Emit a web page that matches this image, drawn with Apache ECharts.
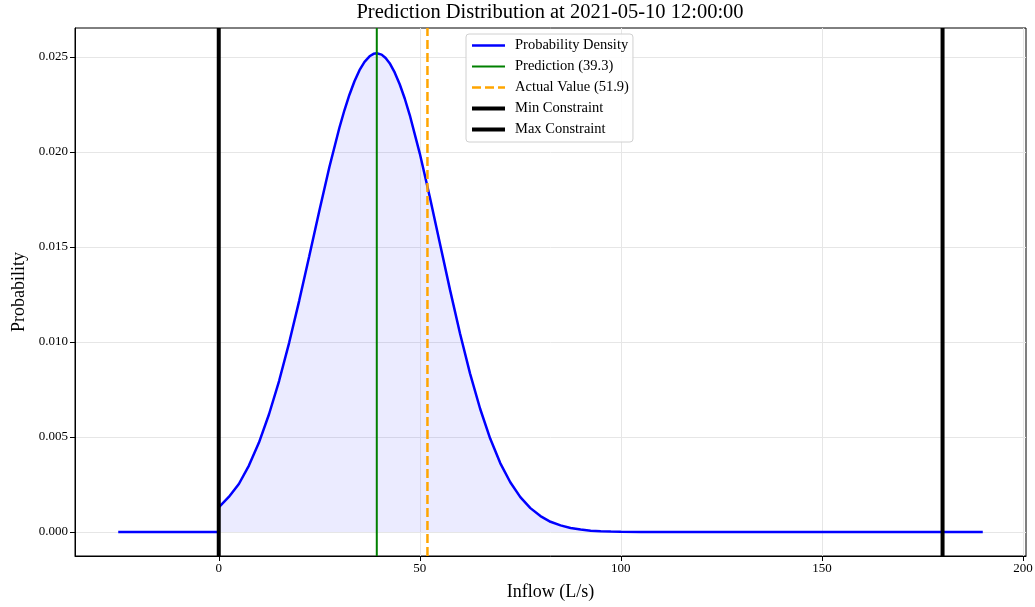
<!DOCTYPE html>
<html>
<head>
<meta charset="utf-8">
<title>Prediction Distribution</title>
<script src="https://cdn.jsdelivr.net/npm/echarts@6/dist/echarts.min.js"></script>
<style>
  html, body { margin: 0; padding: 0; background: #fff; }
  #chart { width: 1035px; height: 607px; }
</style>
</head>
<body>
<div id="chart"></div>
<script>
// values
const titleText = 'Prediction Distribution at 2021-05-10 12:00:00'
const xTicks = [0, 50, 100, 150, 200]
const yTicks = [0, 0.005, 0.01, 0.015, 0.02, 0.025]
const xRange = [-35.75, 200.75]
const yRange = [-0.00126, 0.02653]

const densityX = [-25, -10, 0, 0, 2.5, 5, 7.5, 10, 12.5, 15, 17.5, 20, 22.5, 25, 27.5, 30, 31.25, 32.5, 33.75, 35, 36.25, 37.5, 38.5, 39.3,
  40.5, 41.5, 42.5, 43.75, 45, 46.25, 47.5, 50, 52.5, 55, 57.5, 60, 62.5, 65, 67.5, 70, 72.5, 75, 77.5, 80, 82.5, 85, 87.5, 90,
  92.5, 95, 97.5, 100, 105, 110, 120, 150, 190]
const densityY = [0, 0, 0, 0.0013, 0.00185, 0.00253, 0.0035, 0.00471, 0.0062, 0.00795, 0.00996, 0.01217, 0.01452, 0.0169, 0.0192, 0.02128, 0.0222, 0.02302, 0.02373, 0.02431, 0.02475, 0.02504, 0.02517, 0.0252,
  0.02513, 0.02495, 0.02468, 0.02419, 0.02357, 0.02282, 0.02195, 0.01992, 0.01762, 0.01519, 0.01276, 0.01045, 0.00834, 0.00649, 0.00492, 0.00363, 0.00262, 0.00184, 0.00126, 0.00084, 0.00054, 0.00035, 0.00021, 0.00013,
  0.000075, 0.000043, 0.000023, 0.000012, 0.000003, 0.0000006, 0, 0, 0]

const prediction = 39.3
const actualValue = 51.9
const minConstraint = 0
const maxConstraint = 180

const font = 'Liberation Serif'

const chart = echarts.init(document.getElementById('chart'), null, { renderer: 'canvas' })

function vline(x) {
  return [[x, yRange[0]], [x, yRange[1]]]
}

const option = {
  backgroundColor: '#fff',
  animation: false,
  title: {
    text: titleText,
    left: 550,
    top: 2,
    padding: 0,
    textAlign: 'center',
    textStyle: { fontFamily: font, fontSize: 20.5, fontWeight: 'normal', color: '#000' }
  },
  grid: {
    left: 75,
    right: 9,
    top: 28,
    bottom: 51,
    containLabel: false,
    outerBoundsMode: 'none',
    show: true,
    borderColor: '#000',
    borderWidth: 1
  },
  legend: {
    orient: 'vertical',
    left: 466,
    top: 34,
    padding: [4, 4, 5, 4],
    itemWidth: 33,
    itemHeight: 14,
    itemGap: 6,
    backgroundColor: 'rgba(255,255,255,0.85)',
    borderColor: '#d0d0d0',
    borderWidth: 1,
    borderRadius: 3,
    itemStyle: { opacity: 0 },
    textStyle: { fontFamily: font, fontSize: 14.5, color: '#000', padding: [0, 0, 0, 5] },
    data: [
      { name: 'Probability Density', lineStyle: { width: 2.5 } },
      { name: `Prediction (${prediction})`, lineStyle: { width: 2 } },
      { name: `Actual Value (${actualValue})`, lineStyle: { width: 2.5 } },
      { name: 'Min Constraint', lineStyle: { width: 4 } },
      { name: 'Max Constraint', lineStyle: { width: 4 } }
    ]
  },
  xAxis: {
    type: 'value',
    min: xRange[0],
    max: xRange[1],
    name: 'Inflow (L/s)',
    nameLocation: 'middle',
    nameGap: 27,
    nameTextStyle: { fontFamily: font, fontSize: 18, color: '#000' },
    axisLine: { show: true, onZero: false, lineStyle: { color: '#000', width: 1 } },
    axisTick: { show: true, length: 5, lineStyle: { color: '#000' }, customValues: xTicks },
    axisLabel: { fontFamily: font, fontSize: 13, color: '#000', margin: 6, customValues: xTicks },
    splitLine: { show: true, lineStyle: { color: '#e6e6e6', width: 1 } }
  },
  yAxis: {
    type: 'value',
    min: yRange[0],
    max: yRange[1],
    name: 'Probability',
    nameLocation: 'middle',
    nameGap: 46,
    nameTextStyle: { fontFamily: font, fontSize: 18, color: '#000' },
    axisLine: { show: true, onZero: false, lineStyle: { color: '#000', width: 1 } },
    axisTick: { show: true, length: 5, lineStyle: { color: '#000' }, customValues: yTicks },
    axisLabel: {
      fontFamily: font, fontSize: 13, color: '#000', margin: 7, customValues: yTicks,
      formatter: v => v.toFixed(3)
    },
    splitLine: { show: true, lineStyle: { color: '#e6e6e6', width: 1 } }
  },
  series: [
    {
      name: 'Probability Density',
      type: 'line',
      data: densityX.map((x, i) => [x, densityY[i]]),
      showSymbol: false,
      symbol: 'none',
      lineStyle: { color: '#0000ff', width: 2.5 },
      itemStyle: { color: '#0000ff' },
      areaStyle: { color: 'rgba(0,0,255,0.11)', origin: 0 },
      z: 2
    },
    {
      name: `Prediction (${prediction})`,
      type: 'line',
      data: vline(prediction),
      symbol: 'none',
      lineStyle: { color: '#008000', width: 2 },
      itemStyle: { color: '#008000' },
      z: 3
    },
    {
      name: `Actual Value (${actualValue})`,
      type: 'line',
      data: vline(actualValue),
      symbol: 'none',
      lineStyle: { color: '#ffa500', width: 2.5, type: [9, 4] },
      itemStyle: { color: '#ffa500' },
      z: 3
    },
    {
      name: 'Min Constraint',
      type: 'line',
      data: vline(minConstraint),
      symbol: 'none',
      lineStyle: { color: '#000', width: 4 },
      itemStyle: { color: '#000' },
      z: 3
    },
    {
      name: 'Max Constraint',
      type: 'line',
      data: vline(maxConstraint),
      symbol: 'none',
      lineStyle: { color: '#000', width: 4 },
      itemStyle: { color: '#000' },
      z: 3
    }
  ]
}

chart.setOption(option)

window.addEventListener('resize', () => {
  chart.resize()
})
</script>
</body>
</html>
